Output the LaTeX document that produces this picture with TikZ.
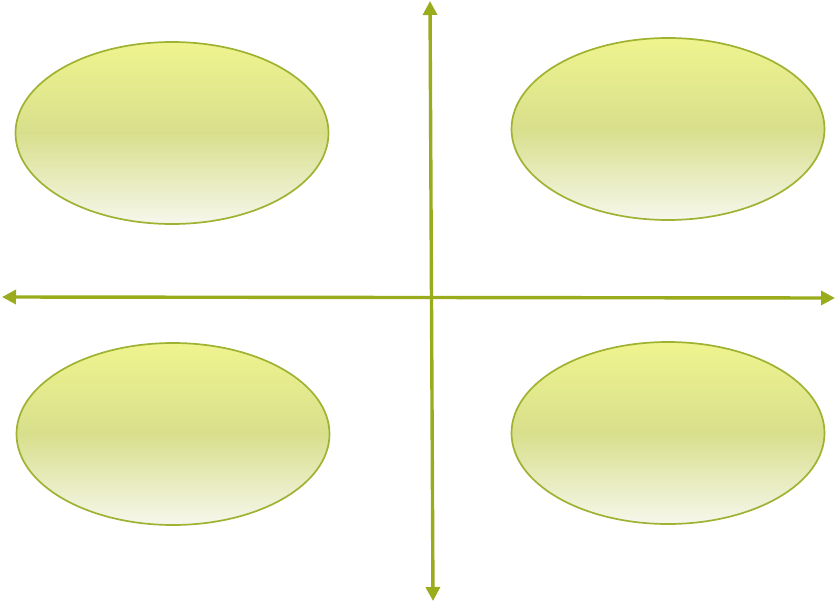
\documentclass[tikz,border=0pt]{standalone}
\usepackage{tikz}
\usetikzlibrary{arrows.meta,shapes.geometric}
\definecolor{oliv}{HTML}{9AAC1C}
\definecolor{rim}{HTML}{9FB232}
\definecolor{topY}{HTML}{EFF48E}
\definecolor{midY}{HTML}{D8DF8C}
\definecolor{botY}{HTML}{F6F7EC}
\tikzset{
  quad/.style ={ellipse, draw=rim, line width=1.7pt, top color=topY,
                bottom color=botY, middle color=midY,
                minimum width=313pt, minimum height=182pt, inner sep=0pt},
  axis/.style ={line width=3.4pt, draw=oliv, {Triangle[length=14pt,width=14pt,fill=oliv]}-{Triangle[length=14pt,width=14pt,fill=oliv]}},
}
\begin{document}
\begin{tikzpicture}[x=1pt,y=-1pt]
  \useasboundingbox (0,0) rectangle (837,602);
  % axes
  \coordinate (ytop) at (430,1);
  \coordinate (ybot) at (433,601);
  \coordinate (xl) at (2,297);
  \coordinate (xr) at (835,298);
  \draw[axis] (ytop) -- (ybot);
  \draw[axis] (xl) -- (xr);
  % quadrants
  \node[quad] (tl) at (172,133) {};
  \node[quad] (tr) at (668,129) {};
  \node[quad] (bl) at (173,434) {};
  \node[quad] (br) at (668,433) {};
\end{tikzpicture}
\end{document}
